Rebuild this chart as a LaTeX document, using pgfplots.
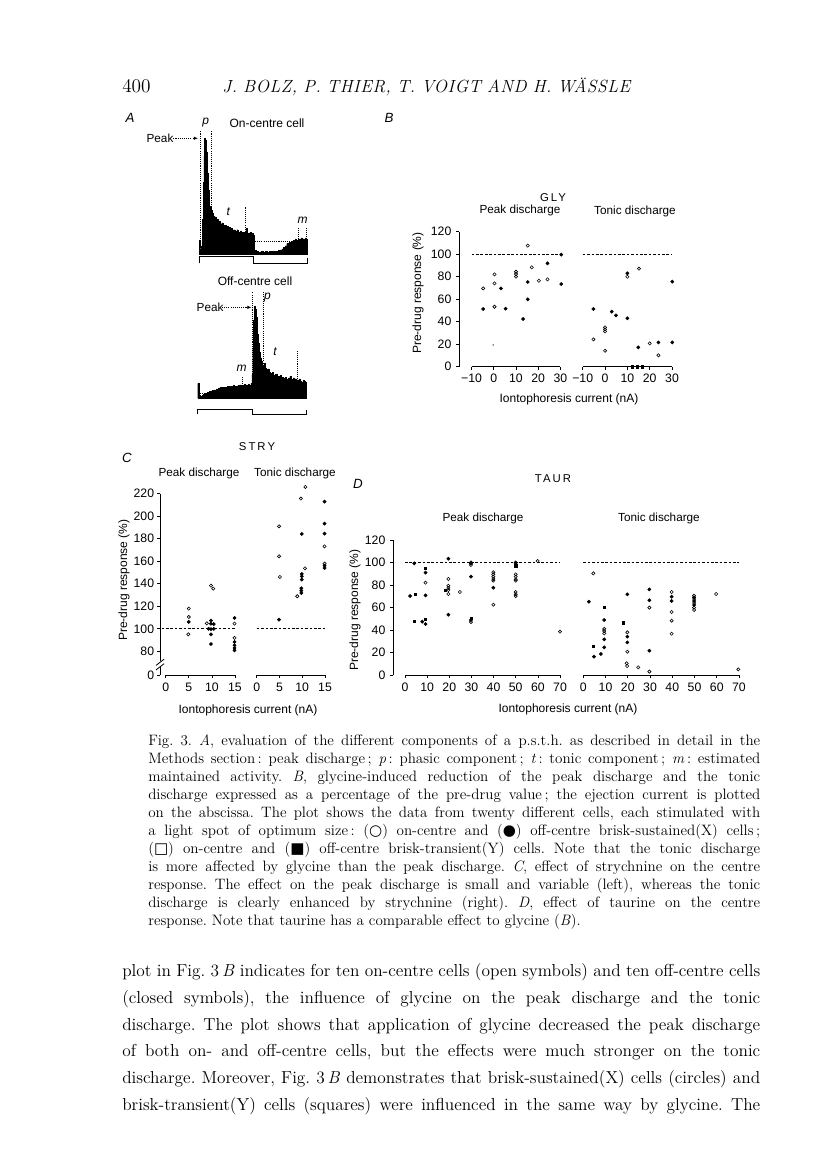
\documentclass[border=0pt]{standalone}
\usepackage{pgfplots}
\pgfplotsset{compat=1.18}
\usepackage{fontspec}
\usetikzlibrary{arrows.meta}
\newfontfamily\figfont{Liberation Sans}
\newfontfamily\figsp[LetterSpace=18]{Liberation Sans}
\newfontfamily\symfont{DejaVu Sans}
\newfontfamily\titlefont[LetterSpace=3]{Latin Modern Roman}
\newcommand\ff[1]{\figfont\fontsize{#1}{#1}\selectfont}
\pgfplotsset{
 panel/.style={
   axis x line*=bottom, axis y line*=left,
   axis line style={-},
   x axis line style={draw=none},
   y axis line style={line width=0.6pt},
   tick align=outside, major tick length=2.2pt,
   tick style={line width=0.5pt,black},
   tick label style={font=\ff{9.2}},
   /pgf/number format/assume math mode=true,
   clip=false, anchor=south west,
   y=0.84375pt,
 },
 rpanel/.style={panel, y axis line style={draw=none}, ytick=\empty},
 fdot/.style={only marks, mark=*, mark size=1.2pt, black},
 odot/.style={only marks, mark=o, mark size=1.2pt, mark options={line width=0.45pt}, black},
 fsq/.style={only marks, mark=square*, mark size=0.85pt, black},
 refl/.style={no marks, black, line width=0.5pt, dash pattern=on 2pt off 1.3pt},
 xax/.style={no marks, black, line width=0.7pt},
 guide/.style={no marks, black, line width=0.45pt, dash pattern=on 0.8pt off 0.8pt},
 hist/.style={hide axis, clip=false, anchor=south west, xmin=0, xmax=100, ymin=0, ymax=100},
}
\begin{document}
\frenchspacing
\begin{tikzpicture}
\fill[white] (0pt,0pt) rectangle (612pt,-879.75pt);
\useasboundingbox (0pt,0pt) rectangle (612pt,-879.75pt);

% ---------- Panel A: on-centre histogram ----------
\begin{axis}[hist, at={(149.25pt,-190.5pt)}, x=0.8123pt, y=0.8678pt]
\addplot[fill=black, draw=black, line width=0.3pt, const plot] coordinates {
(0,12) (0.8,6) (1.6,4) (2.4,7) (3.2,30) (3.8,62) (4.4,85) (5,100) (6,98) (6.8,88) (7.5,70) (8.2,55) (9,45) (9.8,37) (10.6,41) (11.4,38) (12.2,35) (13,33) (14,31) (15,32) (16,29) (17,30) (18,27) (19,28) (20,26) (21,27) (22,25) (23,24) (24,25) (25,23) (26,24) (27,22) (28,23) (29,21) (30,22) (31,20) (32,21) (33,20) (34,19) (35,21) (36,19) (37,18) (38,20) (39,18) (40,19) (41,17) (42,19) (43,18) (43.6,22) (44.2,17) (45,18) (46,16) (47,19) (48,16) (49,18) (50.4,16) (51.4,3) (53,2) (55,1.5) (57,2) (59,1.5) (61,2) (63,1.5) (65,2) (67,2.5) (69,2) (71,2.5) (73,3) (75,3.5) (76.5,4.5) (78,6) (79.5,7) (81,9) (82,8) (83,10) (84,9) (85,11) (86,10) (87,12) (88,11) (89,13) (90,12) (91,11) (92,13) (93,12) (94,14) (95,12) (96,13) (97,11) (98,14) (99,13) (100,13)} \closedcycle;
\addplot[no marks, black, line width=0.6pt] coordinates {(0,-8.1) (0,-2.3) (50.2,-2.3) (50.2,-8.1) (100,-8.1) (100,-3.5)};
\addplot[guide] coordinates {(0.9,0) (0.9,106)};
\addplot[guide] coordinates {(11.7,0) (11.7,106)};
\addplot[guide] coordinates {(42.8,19) (42.8,41)};
\addplot[guide] coordinates {(51.7,10.7) (99.4,10.7)};
\addplot[guide] coordinates {(91.7,10.7) (91.7,23.6)};
\addplot[guide] coordinates {(99.4,10.7) (99.4,23.6)};
\addplot[guide, -{Latex[length=3pt,width=2.5pt]}] coordinates {(-23.7,100) (-1,100)};
\node[font=\ff{8.8}] at (axis cs:-36,100) {Peak};
\node[font=\ff{9}\itshape] at (axis cs:6.3,114) {p};
\node[font=\ff{9}\itshape] at (axis cs:27,36.6) {t};
\node[font=\ff{9}\itshape] at (axis cs:95.7,29.4) {m};
\end{axis}

% ---------- Panel A: off-centre histogram ----------
\begin{axis}[hist, at={(148.28pt,-298.5pt)}, x=0.8123pt, y=0.6848pt]
\addplot[fill=black, draw=black, line width=0.3pt, const plot] coordinates {
(0,16) (1.2,3) (2,1) (3,2) (4,3) (5,4) (6,3.5) (7,5) (8,4.5) (9,6) (10,5.5) (11,7) (12,6.5) (13,8) (14,7.5) (15,9) (16,8.5) (17,10) (18,9.5) (19,11) (20,10) (21,11.5) (22,10.5) (23,12) (24,11) (25,12) (26,11.5) (27,12.5) (28,11.5) (29,12.5) (30,12) (31,13) (32,12) (33,13.5) (34,12.5) (35,13) (36,12.5) (37,14) (38,13) (39,14.5) (40,13.5) (41,14) (42,13) (43,15) (44,14) (45,14.5) (46,13.5) (47,15) (48,14) (49,16) (50,25) (50.8,55) (51.6,85) (52.4,100) (53.4,97) (54.4,88) (55.2,70) (56,60) (57,50) (58,44) (59,40) (60,36) (61,38) (62,33) (63,31) (64,30) (65,32) (66,28) (67,27) (68,26) (69,28) (70,25) (71,24) (72,26) (73,23) (74,24) (75,22) (76,25) (77,21) (78,23) (79,22) (80,20) (81,23) (82,21) (83,20) (84,22) (85,24) (86,21) (87,20) (88,22) (89,19) (90,21) (91,18) (92,20) (93,19) (94,21) (95,18) (96,17) (97,19) (98,18) (99,17) (100,17)} \closedcycle;
\addplot[no marks, black, line width=0.6pt] coordinates {(0,-18) (0,-12.7) (50.5,-12.7) (50.5,-18) (100,-18) (100,-13.5)};
\addplot[guide] coordinates {(50.5,0) (50.5,116)};
\addplot[guide] coordinates {(60.6,33) (60.6,116)};
\addplot[guide] coordinates {(92,18) (92,51)};
\addplot[guide] coordinates {(41.5,5.5) (41.5,23.6)};
\addplot[guide] coordinates {(2.2,5.5) (50.5,5.5)};
\addplot[guide, -{Latex[length=3pt,width=2.5pt]}] coordinates {(22.4,99.3) (49.6,99.3)};
\node[font=\ff{8.8}] at (axis cs:11.4,99.3) {Peak};
\node[font=\ff{9}\itshape] at (axis cs:64.5,110) {p};
\node[font=\ff{9}\itshape] at (axis cs:71.4,51) {t};
\node[font=\ff{9}\itshape] at (axis cs:40.6,32.7) {m};
\end{axis}

% ---------- Panel B: GLY ----------
\begin{axis}[panel, at={(344.25pt,-275.03pt)}, x=1.663pt, xmin=-15.7, xmax=31, ymin=0, ymax=120,
  xtick={-10,0,10,20,30}, xticklabels={−10,0,10,20,30}, ytick={0,20,40,60,80,100,120}]
\addplot[xax] coordinates {(-10,0) (30,0)};
\addplot[refl] coordinates {(-10,100) (30.5,100)};
\addplot[odot] coordinates {(-4.8,69.6) (0.3,82.1) (0.3,74.1) (0.3,53.3) (10,84.4) (10,82.4) (10,80) (15.3,107.6) (17.1,88.3) (20.3,76.4) (24.2,77.6)};
\addplot[fdot] coordinates {(-4.8,51.3) (3.2,69.6) (5.3,51.6) (13.2,42.4) (15.3,75.3) (15.3,59.9) (24.2,91.9) (30.4,99.6) (30.4,73.5)};
\addplot[only marks, mark=*, mark size=0.35pt, black!60] coordinates {(-0.3,19.3)};
\end{axis}
\begin{axis}[rpanel, at={(437.03pt,-275.03pt)}, x=1.675pt, xmin=-10, xmax=31, ymin=0, ymax=120,
  xtick={-10,0,10,20,30}, xticklabels={−10,0,10,20,30}]
\addplot[xax] coordinates {(-10,0) (30,0)};
\addplot[refl] coordinates {(-10,100) (30,100)};
\addplot[odot] coordinates {(-5.2,24.3) (0,35) (0,33.2) (0,31.4) (0,14.2) (10,80) (15.2,87.1) (20,20.7) (23.9,10.1)};
\addplot[fdot] coordinates {(-5.2,51.3) (3,48.9) (4.9,45.6) (10,83) (10,43) (14.9,17.2) (23.9,21.6) (30.1,75.6) (30.1,21.6)};
\addplot[fsq] coordinates {(12.2,0) (14.4,0) (16.6,0)};
\end{axis}

% ---------- Panel C: STRY ----------
\begin{axis}[panel, at={(120pt,-506.25pt)}, x=3.465pt, y=0.845pt, xmin=-1.23, xmax=15.5, ymin=59, ymax=220,
  y axis line style={draw=none},
  yticklabel style={inner sep=2pt},
  xtick={0,5,10,15}, ytick={59,80,100,120,140,160,180,200,220}, yticklabels={0,80,100,120,140,160,180,200,220}]
\addplot[xax] coordinates {(0,59) (15,59)};
\addplot[no marks, black, line width=0.6pt] coordinates {(-1.23,220) (-1.23,71.5)};
\addplot[no marks, black, line width=0.6pt] coordinates {(-1.23,66.5) (-1.23,59)};
\addplot[no marks, black, line width=0.6pt] coordinates {(-2.1,63.5) (-0.35,69)};
\addplot[no marks, black, line width=0.6pt] coordinates {(-2.1,67.5) (-0.35,73)};
\addplot[refl] coordinates {(-0.9,100) (14.9,100)};
\addplot[odot] coordinates {(5,117.9) (5,110.5) (4.9,95.1) (9.8,138.3) (10.3,135.7) (8.9,104.9) (14.9,104.6) (14.9,91.9)};
\addplot[fdot] coordinates {(5,106.1) (9.8,107.3) (9.8,104.5) (10.4,104.2) (9.3,100) (9.8,99.7) (10.4,100) (9.8,95.1) (9.8,86.5) (14.9,109.6) (14.9,88.3) (14.9,85.4) (14.9,83) (14.9,80.9)};
\end{axis}
\begin{axis}[rpanel, at={(192.53pt,-506.25pt)}, x=3.415pt, y=0.845pt, xmin=0, xmax=15.5, ymin=59, ymax=220,
  xtick={0,5,10,15}]
\addplot[xax] coordinates {(0,59) (15,59)};
\addplot[refl] coordinates {(0,100) (14.9,100)};
\addplot[odot] coordinates {(4.9,191) (4.9,164.4) (5.1,146) (9.7,215.6) (10.7,225.9) (10.6,153.7) (8.9,128.9) (14.9,173.2) (14.9,157.9)};
\addplot[fdot] coordinates {(4.9,108.1) (9.9,184.2) (9.9,148.7) (9.9,146.6) (9.9,143.7) (9.8,136) (9.8,133.9) (9.8,131.8) (14.9,212.9) (14.9,193.4) (14.9,184.5) (14.9,156.1) (14.9,154)};
\end{axis}

% ---------- Panel D: TAUR ----------
\begin{axis}[panel, at={(294.75pt,-506.25pt)}, x=1.661pt, xmin=-5.4, xmax=72, ymin=0, ymax=120,
  xtick={0,10,20,30,40,50,60,70}, ytick={0,20,40,60,80,100,120}]
\addplot[xax] coordinates {(0,0) (70,0)};
\addplot[refl] coordinates {(0,100) (70,100)};
\addplot[fdot] coordinates {(2.3,70.2) (4.2,99.3) (7.8,47.4) (9.3,91) (9.3,70.8) (9.3,45.3) (19.6,103.4) (19.6,53.6) (29.8,87.4) (29.8,99.3) (29.8,48.9) (39.9,77.6) (50,100) (50,98.7)};
\addplot[fsq] coordinates {(4.5,71.7) (4.2,48) (9.3,94.8) (9.3,49.5) (18.1,75.6) (29.8,50.4) (50,97.2)};
\addplot[odot] coordinates {(9.3,82.1) (19.6,85.3) (19.6,79.4) (19.6,77.3) (19.6,75.6) (19.6,72) (24.8,73.8) (29.8,100.1) (29.8,97.8) (29.8,47.1) (39.9,91.3) (39.9,89.5) (39.9,87.4) (39.9,85.3) (39.9,83.9) (39.9,62.5) (50,89.5) (50,87.4) (50,85) (50,83.9) (50,73.8) (50,71.7) (50,70.2) (59.9,101.3) (70,38.5)};
\end{axis}
\begin{axis}[rpanel, at={(437.48pt,-506.25pt)}, x=1.668pt, xmin=0, xmax=72, ymin=0, ymax=120,
  xtick={0,10,20,30,40,50,60,70}]
\addplot[xax] coordinates {(0,0) (70,0)};
\addplot[refl] coordinates {(0,100) (70,100)};
\addplot[fdot] coordinates {(2.5,65.2) (4.8,16.3) (7.9,18.7) (9.4,48.9) (9.4,31.7) (9.4,24.6) (19.8,71.7) (19.8,34.1) (19.8,29) (29.7,76.1) (29.7,66.4) (29.7,21.6) (39.7,69.6) (39.7,65.8) (49.8,69) (49.8,65.8) (49.8,62.2)};
\addplot[fsq] coordinates {(4.5,25.8) (9.4,59.9) (18,46.5)};
\addplot[odot] coordinates {(4.5,90.4) (9.4,40.9) (9.4,39.1) (9.4,37) (19.8,37.9) (19.8,20.7) (19.5,10.4) (19.7,8) (24.7,6.8) (29.7,59.9) (29.7,3) (39.7,73.8) (39.7,56) (39.7,48.3) (39.7,36.7) (49.8,70.5) (49.8,67.6) (49.8,64) (49.8,59.9) (49.8,57.8) (59.7,72) (69.7,5)};
\end{axis}

% ---------- Text (page pixel coordinates) ----------
\begin{scope}[x=0.75pt, y=-0.75pt]
\node[anchor=base west, inner sep=0, font=\fontsize{14.5}{16}\selectfont] at (122,93) {400};
\node[anchor=base west, inner sep=0, font=\titlefont\itshape\fontsize{13.2}{16}\selectfont] at (222,93) {\makebox[306pt][s]{J. BOLZ, P. THIER, T. VOIGT AND H. WÄSSLE}};
\node[font=\ff{10}\itshape] at (130,118) {A};
\node[font=\ff{10}\itshape] at (389,118) {B};
\node[font=\ff{10}\itshape] at (127,458) {C};
\node[font=\ff{10}\itshape] at (358,484) {D};
\node[font=\ff{9}] at (267,123) {On-centre cell};
\node[font=\ff{9}] at (255,281) {Off-centre cell};
\node[font=\figsp\fontsize{8.5}{9}\selectfont] at (553,198) {GLY};
\node[font=\figsp\fontsize{8.5}{9}\selectfont] at (257,447) {STRY};
\node[font=\figsp\fontsize{8.5}{9}\selectfont] at (553,479) {TAUR};
\node[font=\ff{8.8}] at (520,210) {Peak discharge};
\node[font=\ff{8.8}] at (635,211) {Tonic discharge};
\node[font=\ff{8.8}] at (199,473) {Peak discharge};
\node[font=\ff{8.8}] at (295,473) {Tonic discharge};
\node[font=\ff{8.8}] at (483,518) {Peak discharge};
\node[font=\ff{8.8}] at (659,518) {Tonic discharge};
\node[font=\ff{9}, rotate=90] at (418,293) {Pre-drug response (\%)};
\node[font=\ff{9}, rotate=90] at (124,580) {Pre-drug response (\%)};
\node[font=\ff{9}, rotate=90] at (355,610) {Pre-drug response (\%)};
\node[font=\ff{9}] at (569,399) {Iontophoresis current (nA)};
\node[font=\ff{9}] at (248,710) {Iontophoresis current (nA)};
\node[font=\ff{9}] at (568,709) {Iontophoresis current (nA)};

% caption
\begin{scope}[every node/.style={anchor=base west, inner sep=0, font=\fontsize{11.3}{13}\selectfont}]
\node at (148,745) {\makebox[459pt][s]{Fig. 3. \textit{A}, evaluation of the different components of a p.s.t.h. as described in detail in the}};
\node at (148,763) {\makebox[459pt][s]{Methods section\,: peak discharge\,; \textit{p}\,: phasic component\,; \textit{t}\,: tonic component\,; \textit{m}\,: estimated}};
\node at (148,781) {\makebox[459pt][s]{maintained activity. \textit{B}, glycine-induced reduction of the peak discharge and the tonic}};
\node at (148,799) {\makebox[459pt][s]{discharge expressed as a percentage of the pre-drug value\,; the ejection current is plotted}};
\node at (148,817) {\makebox[459pt][s]{on the abscissa. The plot shows the data from twenty different cells, each stimulated with}};
\node at (148,835) {\makebox[459pt][s]{a light spot of optimum size\,: ({\symfont ○}) on-centre and ({\symfont ●}) off-centre brisk-sustained(X) cells\,;}};
\node at (148,853) {\makebox[459pt][s]{({\symfont □}) on-centre and ({\symfont ■}) off-centre brisk-transient(Y) cells. Note that the tonic discharge}};
\node at (148,871) {\makebox[459pt][s]{is more affected by glycine than the peak discharge. \textit{C}, effect of strychnine on the centre}};
\node at (148,889) {\makebox[459pt][s]{response. The effect on the peak discharge is small and variable (left), whereas the tonic}};
\node at (148,907) {\makebox[459pt][s]{discharge is clearly enhanced by strychnine (right). \textit{D}, effect of taurine on the centre}};
\node at (148,925) {response. Note that taurine has a comparable effect to glycine (\textit{B}).};
\end{scope}

% body text
\begin{scope}[every node/.style={anchor=base west, inner sep=0, font=\fontsize{13}{15}\selectfont}]
\node at (122,976.5) {\makebox[478.5pt][s]{plot in Fig.~3\,\textit{B} indicates for ten on-centre cells (open symbols) and ten off-centre cells}};
\node at (122,1003.3) {\makebox[478.5pt][s]{(closed symbols), the influence of glycine on the peak discharge and the tonic}};
\node at (122,1030.1) {\makebox[478.5pt][s]{discharge. The plot shows that application of glycine decreased the peak discharge}};
\node at (122,1056.9) {\makebox[478.5pt][s]{of both on- and off-centre cells, but the effects were much stronger on the tonic}};
\node at (122,1083.7) {\makebox[478.5pt][s]{discharge. Moreover, Fig.~3\,\textit{B} demonstrates that brisk-sustained(X) cells (circles) and}};
\node at (122,1110.5) {\makebox[478.5pt][s]{brisk-transient(Y) cells (squares) were influenced in the same way by glycine. The}};
\end{scope}
\end{scope}
\end{tikzpicture}
\end{document}
